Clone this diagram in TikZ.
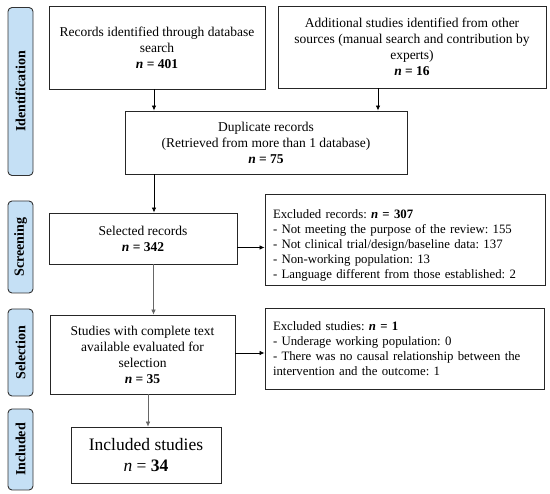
\documentclass[tikz,border=0pt]{standalone}
\usepackage{fontspec}
\setmainfont{Liberation Serif}
\usetikzlibrary{arrows.meta}
\definecolor{sidefill}{RGB}{197,224,245}
\tikzset{
  box/.style={draw=black!85, line width=0.9pt, fill=white, align=center, inner sep=2pt, font=\fontsize{13.5}{16}\selectfont},
  lbox/.style={draw=black!85, line width=0.9pt, fill=white, align=left, inner xsep=8pt, inner ysep=5pt, font=\fontsize{12.8}{15}\selectfont},
  side/.style={draw=black!80, line width=0.9pt, fill=sidefill, rounded corners=4pt, minimum width=25pt, inner sep=0pt, font=\bfseries\fontsize{14}{16}\selectfont},
  arr/.style={-{Latex[length=5pt,width=4.5pt]}, line width=0.8pt, black},
  garr/.style={-{Latex[length=5pt,width=4.5pt]}, line width=0.5pt, black!60},
}
\newcommand{\nn}[1]{\textbf{\textit{n} = #1}}
\begin{document}
\frenchspacing
\begin{tikzpicture}[x=1pt,y=-1pt]
\useasboundingbox (0,0) rectangle (550,494);
% side labels
\node[side, minimum height=168pt] (sid) at (20.5,91.5) {\rotatebox{90}{Identification}};
\node[side, minimum height=92pt] (sscr) at (20.5,247) {\rotatebox{90}{Screening}};
\node[side, minimum height=87pt] (ssel) at (20.5,352.5) {\rotatebox{90}{Selection}};
\node[side, minimum height=81pt] (sinc) at (20.5,449.5) {\rotatebox{90}{Included}};
% boxes
\node[box, minimum width=216pt, minimum height=83pt] (b1) at (157,47.5)
  {Records identified through database\\ search\\ \nn{401}};
\node[box, minimum width=268pt, minimum height=82pt] (b2) at (412,47)
  {Additional studies identified from other\\ sources (manual search and contribution by\\ experts)\\ \nn{16}};
\node[box, minimum width=282pt, minimum height=63pt] (dup) at (266,142.5)
  {Duplicate records\\ (Retrieved from more than 1 database)\\ \nn{75}};
\node[box, minimum width=188pt, minimum height=51pt] (sel) at (143,238.5)
  {Selected records\\ \nn{342}};
\node[lbox, minimum width=280pt, minimum height=88pt, text width=264pt] (exr) at (405,240)
  {\rule{0pt}{19pt}Excluded records: \nn{307}\\
   - Not meeting the purpose of the review: 155\\
   - Not clinical trial/design/baseline data: 137\\
   - Non-working population: 13\\
   - Language different from those established: 2};
\node[box, minimum width=185pt, minimum height=79pt] (stu) at (142.5,354.5)
  {Studies with complete text\\ available evaluated for\\ selection\\ \nn{35}};
\node[lbox, minimum width=279pt, minimum height=81pt, text width=263pt] (exs) at (404.5,348.5)
  {Excluded studies: \nn{1}\\
   - Underage working population: 0\\
   - There was no causal relationship between the\\
   intervention and the outcome: 1};
\node[box, minimum width=150pt, minimum height=56pt, font=\fontsize{17.5}{21}\selectfont] (inc) at (146,455)
  {Included studies\\ \textit{n} = \textbf{34}};
% connectors
\draw[arr] ([xshift=-3pt]b1.south) -- ([xshift=-3pt]b1.south |- dup.north);
\draw[arr] ([xshift=-34pt]b2.south) -- ([xshift=-34pt]b2.south |- dup.north);
\draw[arr] ([xshift=-112pt]dup.south) -- ([xshift=-112pt]dup.south |- sel.north);
\draw[arr] ([yshift=-9pt]sel.east) -- ([yshift=-9pt]sel.east -| exr.west);
\draw[garr] ([xshift=10.5pt]sel.south) -- ([xshift=10.5pt]sel.south |- stu.north);
\draw[arr] ([yshift=1.5pt]stu.east) -- ([yshift=1.5pt]stu.east -| exs.west);
\draw[garr] ([xshift=5.5pt]stu.south) -- ([xshift=5.5pt]stu.south |- inc.north);
\end{tikzpicture}
\end{document}
